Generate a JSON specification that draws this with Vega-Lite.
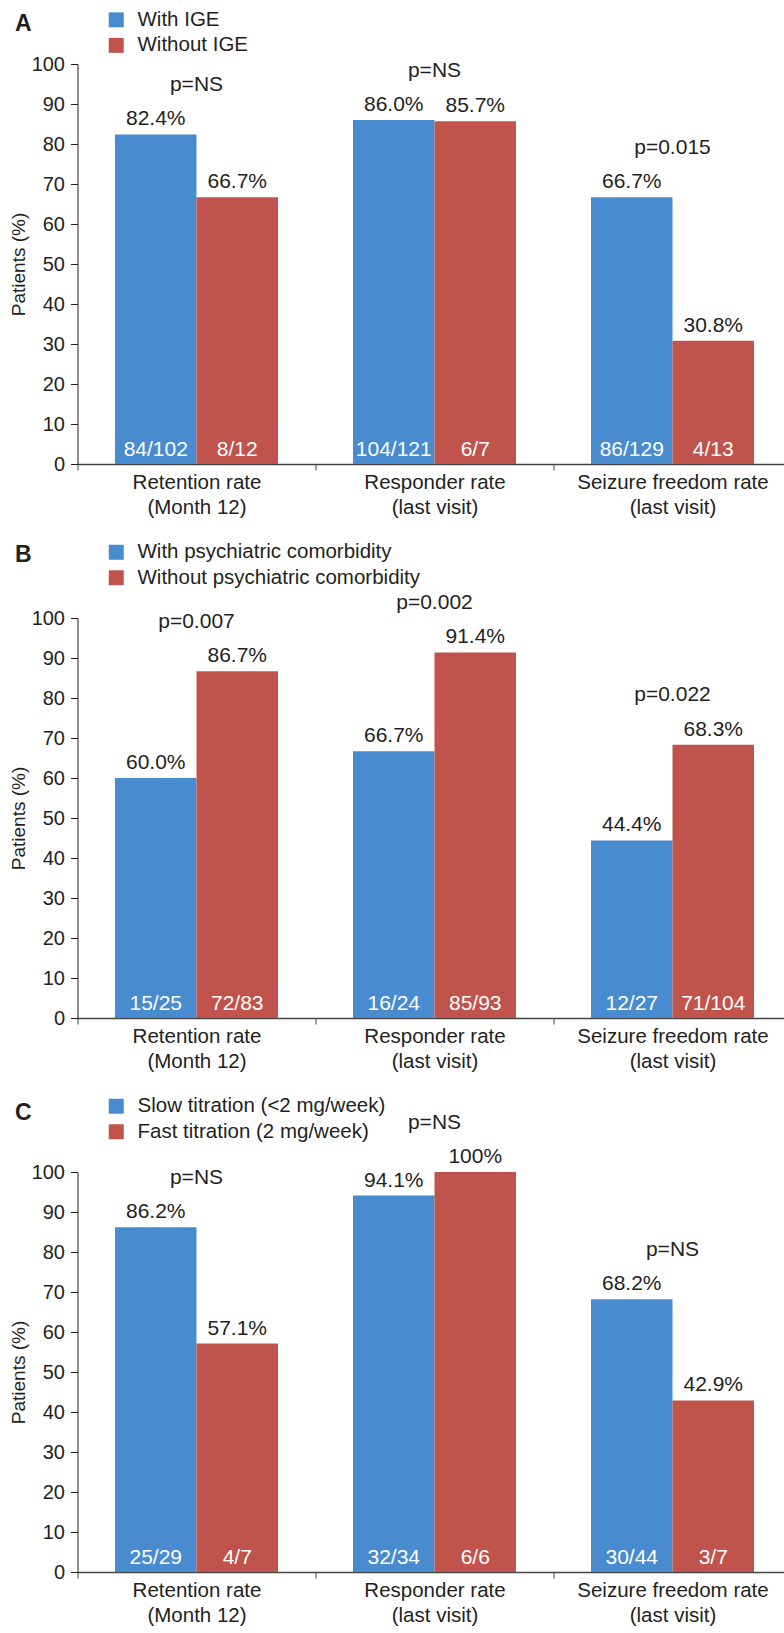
{
  "$schema": "https://vega.github.io/schema/vega-lite/v6.json",
  "padding": {"left": 8.5, "top": 9, "right": -9, "bottom": 0},
  "background": "white",
  "config": {
    "font": "Liberation Sans",
    "view": {"stroke": null},
    "text": {"color": "#231F20", "font": "Liberation Sans", "fontSize": 21, "baseline": "alphabetic"},
    "title": {"color": "#231F20", "fontSize": 23, "fontWeight": "bold", "anchor": "start", "frame": "group", "baseline": "alphabetic", "dx": -62.5},
    "axis": {"labelColor": "#231F20", "titleColor": "#231F20", "grid": false},
    "axisX": {
      "title": null, "labelAngle": 0, "labelFontSize": 20.5, "labelLineHeight": 25, "labelPadding": 2, "labelLimit": 400,
      "labelBaseline": "top", "tickBand": "extent", "tickSize": 6,
      "domainColor": "#444", "domainWidth": 1.5, "tickColor": "#444"
    },
    "axisY": {
      "tickCount": 10, "labelFontSize": 20, "labelPadding": 6, "tickSize": 7,
      "titleFontSize": 19, "titleFontWeight": "normal", "titlePadding": 3,
      "tickColor": "#231F20", "domainColor": "#231F20"
    },
    "legend": {
      "labelColor": "#231F20", "orient": "none", "legendX": 28.5, "direction": "vertical",
      "symbolType": "square", "symbolSize": 225, "symbolStrokeWidth": 0, "symbolOpacity": 1,
      "labelFontSize": 20.5, "labelOffset": 11, "rowPadding": 4.5, "padding": 0, "labelLimit": 500
    }
  },
  "datasets": {
    "rates": [
      {"panel": "A", "measure": "Retention rate|(Month 12)", "group": "With IGE", "value": 82.4, "pct": "82.4%", "count": "84/102", "p": "p=NS"},
      {"panel": "A", "measure": "Retention rate|(Month 12)", "group": "Without IGE", "value": 66.7, "pct": "66.7%", "count": "8/12", "p": "p=NS"},
      {"panel": "A", "measure": "Responder rate|(last visit)", "group": "With IGE", "value": 86.0, "pct": "86.0%", "count": "104/121", "p": "p=NS"},
      {"panel": "A", "measure": "Responder rate|(last visit)", "group": "Without IGE", "value": 85.7, "pct": "85.7%", "count": "6/7", "p": "p=NS"},
      {"panel": "A", "measure": "Seizure freedom rate|(last visit)", "group": "With IGE", "value": 66.7, "pct": "66.7%", "count": "86/129", "p": "p=0.015"},
      {"panel": "A", "measure": "Seizure freedom rate|(last visit)", "group": "Without IGE", "value": 30.8, "pct": "30.8%", "count": "4/13", "p": "p=0.015"},

      {"panel": "B", "measure": "Retention rate|(Month 12)", "group": "With psychiatric comorbidity", "value": 60.0, "pct": "60.0%", "count": "15/25", "p": "p=0.007"},
      {"panel": "B", "measure": "Retention rate|(Month 12)", "group": "Without psychiatric comorbidity", "value": 86.7, "pct": "86.7%", "count": "72/83", "p": "p=0.007"},
      {"panel": "B", "measure": "Responder rate|(last visit)", "group": "With psychiatric comorbidity", "value": 66.7, "pct": "66.7%", "count": "16/24", "p": "p=0.002"},
      {"panel": "B", "measure": "Responder rate|(last visit)", "group": "Without psychiatric comorbidity", "value": 91.4, "pct": "91.4%", "count": "85/93", "p": "p=0.002"},
      {"panel": "B", "measure": "Seizure freedom rate|(last visit)", "group": "With psychiatric comorbidity", "value": 44.4, "pct": "44.4%", "count": "12/27", "p": "p=0.022"},
      {"panel": "B", "measure": "Seizure freedom rate|(last visit)", "group": "Without psychiatric comorbidity", "value": 68.3, "pct": "68.3%", "count": "71/104", "p": "p=0.022"},

      {"panel": "C", "measure": "Retention rate|(Month 12)", "group": "Slow titration (<2 mg/week)", "value": 86.2, "pct": "86.2%", "count": "25/29", "p": "p=NS"},
      {"panel": "C", "measure": "Retention rate|(Month 12)", "group": "Fast titration (2 mg/week)", "value": 57.1, "pct": "57.1%", "count": "4/7", "p": "p=NS"},
      {"panel": "C", "measure": "Responder rate|(last visit)", "group": "Slow titration (<2 mg/week)", "value": 94.1, "pct": "94.1%", "count": "32/34", "p": "p=NS"},
      {"panel": "C", "measure": "Responder rate|(last visit)", "group": "Fast titration (2 mg/week)", "value": 100, "pct": "100%", "count": "6/6", "p": "p=NS"},
      {"panel": "C", "measure": "Seizure freedom rate|(last visit)", "group": "Slow titration (<2 mg/week)", "value": 68.2, "pct": "68.2%", "count": "30/44", "p": "p=NS"},
      {"panel": "C", "measure": "Seizure freedom rate|(last visit)", "group": "Fast titration (2 mg/week)", "value": 42.9, "pct": "42.9%", "count": "3/7", "p": "p=NS"}
    ]
  },
  "spacing": 24,
  "resolve": {
    "scale": {"color": "independent", "x": "independent", "y": "independent", "xOffset": "independent"},
    "legend": {"color": "independent"}
  },
  "vconcat": [
    {
      "width": 714, "height": 400,
      "title": {"text": "A", "offset": -26.3},
      "data": {"name": "rates"},
      "transform": [{"filter": "datum.panel === 'A'"}],
      "encoding": {
        "x": {"field": "measure", "type": "nominal", "sort": null,
              "scale": {"paddingInner": 0, "paddingOuter": 0},
              "axis": {"labelExpr": "split(datum.label, '|')"}},
        "y": {"field": "value", "type": "quantitative", "scale": {"domain": [0, 100], "nice": false},
              "axis": {"title": "Patients (%)"}}
      },
      "layer": [
        {
          "mark": {"type": "bar"},
          "encoding": {
            "xOffset": {"field": "group", "sort": null, "scale": {"paddingInner": 0, "paddingOuter": 0.46}},
            "color": {"field": "group", "type": "nominal", "sort": null,
                      "scale": {"range": ["#488BCF", "#C0544D"]},
                      "legend": {"title": null, "legendY": -54.4}}
          }
        },
        {
          "mark": {"type": "text", "dy": -9},
          "encoding": {
            "xOffset": {"field": "group", "sort": null},
            "text": {"field": "pct"}
          }
        },
        {
          "mark": {"type": "text", "dy": -8, "color": "white"},
          "encoding": {
            "xOffset": {"field": "group", "sort": null},
            "y": {"datum": 0, "type": "quantitative", "axis": {"title": "Patients (%)"}},
            "text": {"field": "count"}
          }
        },
        {
          "transform": [{"aggregate": [{"op": "max", "field": "value", "as": "top"}], "groupby": ["measure", "p"]}],
          "mark": {"type": "text", "dy": -43.5},
          "encoding": {
            "y": {"field": "top", "type": "quantitative", "axis": {"title": "Patients (%)"}},
            "text": {"field": "p"}
          }
        }
      ]
    },
    {
      "width": 714, "height": 400,
      "title": {"text": "B", "offset": -25.2},
      "data": {"name": "rates"},
      "transform": [{"filter": "datum.panel === 'B'"}],
      "encoding": {
        "x": {"field": "measure", "type": "nominal", "sort": null,
              "scale": {"paddingInner": 0, "paddingOuter": 0},
              "axis": {"labelExpr": "split(datum.label, '|')"}},
        "y": {"field": "value", "type": "quantitative", "scale": {"domain": [0, 100], "nice": false},
              "axis": {"title": "Patients (%)"}}
      },
      "layer": [
        {
          "mark": {"type": "bar"},
          "encoding": {
            "xOffset": {"field": "group", "sort": null, "scale": {"paddingInner": 0, "paddingOuter": 0.46}},
            "color": {"field": "group", "type": "nominal", "sort": null,
                      "scale": {"range": ["#488BCF", "#C0544D"]},
                      "legend": {"title": null, "legendY": -76}}
          }
        },
        {
          "mark": {"type": "text", "dy": -9},
          "encoding": {
            "xOffset": {"field": "group", "sort": null},
            "text": {"field": "pct"}
          }
        },
        {
          "mark": {"type": "text", "dy": -8, "color": "white"},
          "encoding": {
            "xOffset": {"field": "group", "sort": null},
            "y": {"datum": 0, "type": "quantitative", "axis": {"title": "Patients (%)"}},
            "text": {"field": "count"}
          }
        },
        {
          "transform": [{"aggregate": [{"op": "max", "field": "value", "as": "top"}], "groupby": ["measure", "p"]}],
          "mark": {"type": "text", "dy": -43.5},
          "encoding": {
            "y": {"field": "top", "type": "quantitative", "axis": {"title": "Patients (%)"}},
            "text": {"field": "p"}
          }
        }
      ]
    },
    {
      "width": 714, "height": 400,
      "title": {"text": "C", "offset": -28.9},
      "data": {"name": "rates"},
      "transform": [{"filter": "datum.panel === 'C'"}],
      "encoding": {
        "x": {"field": "measure", "type": "nominal", "sort": null,
              "scale": {"paddingInner": 0, "paddingOuter": 0},
              "axis": {"labelExpr": "split(datum.label, '|')"}},
        "y": {"field": "value", "type": "quantitative", "scale": {"domain": [0, 100], "nice": false},
              "axis": {"title": "Patients (%)"}}
      },
      "layer": [
        {
          "mark": {"type": "bar"},
          "encoding": {
            "xOffset": {"field": "group", "sort": null, "scale": {"paddingInner": 0, "paddingOuter": 0.46}},
            "color": {"field": "group", "type": "nominal", "sort": null,
                      "scale": {"range": ["#488BCF", "#C0544D"]},
                      "legend": {"title": null, "legendY": -76}}
          }
        },
        {
          "mark": {"type": "text", "dy": -9},
          "encoding": {
            "xOffset": {"field": "group", "sort": null},
            "text": {"field": "pct"}
          }
        },
        {
          "mark": {"type": "text", "dy": -8, "color": "white"},
          "encoding": {
            "xOffset": {"field": "group", "sort": null},
            "y": {"datum": 0, "type": "quantitative", "axis": {"title": "Patients (%)"}},
            "text": {"field": "count"}
          }
        },
        {
          "transform": [{"aggregate": [{"op": "max", "field": "value", "as": "top"}], "groupby": ["measure", "p"]}],
          "mark": {"type": "text", "dy": -43.5},
          "encoding": {
            "y": {"field": "top", "type": "quantitative", "axis": {"title": "Patients (%)"}},
            "text": {"field": "p"}
          }
        }
      ]
    }
  ]
}
